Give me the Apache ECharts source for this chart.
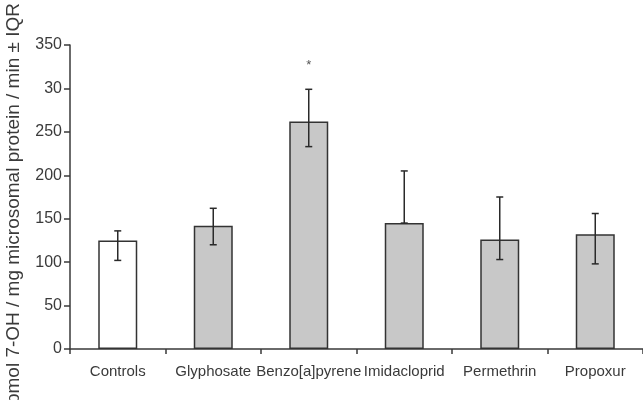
<!DOCTYPE html>
<html>
<head>
<meta charset="utf-8">
<script src="https://cdn.jsdelivr.net/npm/echarts@6/dist/echarts.min.js"></script>
<style>
  html, body { margin: 0; padding: 0; background: #fff; }
  #chart { width: 643px; height: 400px; }
</style>
</head>
<body>
<div id="chart"></div>
<script>
// data
var categories = ['Controls', 'Glyphosate', 'Benzo[a]pyrene', 'Imidacloprid', 'Permethrin', 'Propoxur'];
var medians = [125, 142, 262, 145, 126, 132];
var iqrLow = [102, 120, 233, 145, 103, 98];
var iqrHigh = [136, 162, 299, 205, 175, 156];
var starLevel = [null, null, 327, null, null, null];
var yTickValues = [0, 50, 100, 150, 200, 250, 300, 350];
var yTickLabels = ['0', '50', '100', '150', '200', '250', '30', '350'];
var yTitle = 'pmol 7-OH / mg microsomal protein / min \u00b1 IQR';

var textColor = '#3a3a3a';
var lineColor = '#3a3a3a';
var fontFam = 'Liberation Sans, Arial, sans-serif';

var barData = medians.map(function (v, i) {
    return {
        value: v,
        itemStyle: { color: i === 0 ? '#ffffff' : '#c8c8c8' }
    };
});

var errData = categories.map(function (c, i) {
    return [i, iqrLow[i], iqrHigh[i], starLevel[i]];
});

var chart = echarts.init(document.getElementById('chart'));
var option = {
    animation: false,
    backgroundColor: '#ffffff',
    grid: { left: 70, right: -3, top: 45, bottom: 51 },
    graphic: [{
        type: 'text',
        left: 4,
        top: 3,
        rotation: Math.PI / 2,
        style: {
            text: yTitle,
            fill: textColor,
            fontSize: 19,
            fontFamily: fontFam
        }
    }],
    xAxis: {
        type: 'category',
        data: categories,
        axisLine: { lineStyle: { color: lineColor, width: 1.5 } },
        axisTick: { show: true, interval: 0, length: 5, lineStyle: { color: lineColor, width: 1.5 } },
        axisLabel: {
            interval: 0,
            color: textColor, fontSize: 15, margin: 15,
            fontFamily: fontFam
        },
        splitLine: { show: false }
    },
    yAxis: {
        type: 'value',
        min: 0, max: 350, interval: 50,
        axisLine: { show: true, lineStyle: { color: lineColor, width: 1.5 } },
        axisTick: { show: true, length: 6, lineStyle: { color: lineColor, width: 1.5 } },
        axisLabel: {
            color: textColor, fontSize: 16, margin: 8,
            fontFamily: fontFam,
            formatter: function (v) {
                var k = yTickValues.indexOf(v);
                return k >= 0 ? yTickLabels[k] : '';
            }
        },
        splitLine: { show: false }
    },
    series: [
        {
            type: 'bar',
            data: barData,
            barWidth: 39,
            itemStyle: { borderColor: '#333333', borderWidth: 1.5 }
        },
        {
            type: 'custom',
            data: errData,
            z: 10,
            renderItem: function (params, api) {
                var i = api.value(0);
                var lo = api.coord([i, api.value(1)]);
                var hi = api.coord([i, api.value(2)]);
                var cap = 3.5;
                var style = { stroke: '#2a2a2a', lineWidth: 1.5 };
                var children = [
                    { type: 'line', shape: { x1: lo[0], y1: lo[1], x2: hi[0], y2: hi[1] }, style: style },
                    { type: 'line', shape: { x1: hi[0] - cap, y1: hi[1], x2: hi[0] + cap, y2: hi[1] }, style: style },
                    { type: 'line', shape: { x1: lo[0] - cap, y1: lo[1], x2: lo[0] + cap, y2: lo[1] }, style: style }
                ];
                var s = api.value(3);
                if (s !== null && !isNaN(s)) {
                    var p = api.coord([i, s]);
                    children.push({
                        type: 'text',
                        style: {
                            text: '*', x: p[0], y: p[1],
                            fill: '#555555', fontSize: 13,
                            align: 'center', verticalAlign: 'middle'
                        }
                    });
                }
                return { type: 'group', children: children };
            }
        }
    ]
};
chart.setOption(option);
</script>
</body>
</html>
